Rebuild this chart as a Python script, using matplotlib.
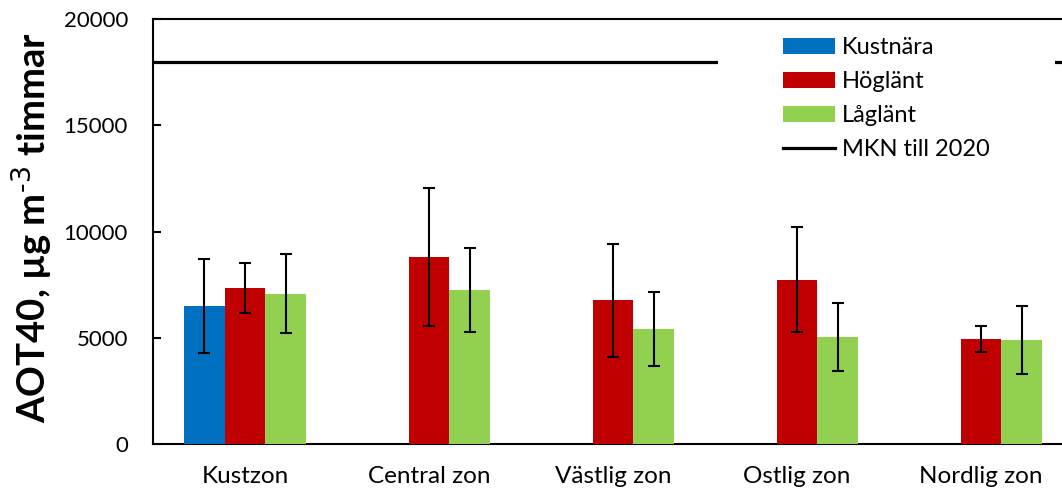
import matplotlib
matplotlib.use("Agg")
import matplotlib.pyplot as plt
import numpy as np

categories = ["Kustzon", "Central zon", "Västlig zon", "Ostlig zon", "Nordlig zon"]
series_names = ["Kustnära", "Höglänt", "Låglänt"]
kustnara = [6500, 0, 0, 0, 0]
kustnara_err = [2200, 0, 0, 0, 0]
hoglant = [7340, 8790, 6760, 7720, 4950]
hoglant_err = [1170, 3240, 2660, 2470, 600]
laglant = [7070, 7230, 5420, 5050, 4890]
laglant_err = [1850, 1975, 1750, 1600, 1590]
mkn_value = 18000
mkn_label = "MKN till 2020"
yticks = [0, 5000, 10000, 15000, 20000]

colors = ["#0070C0", "#C00000", "#92D050"]

plt.rcParams['font.family'] = ['Lato', 'DejaVu Sans']
plt.rcParams['mathtext.default'] = 'regular'

fig = plt.figure(figsize=(10.62, 4.92), dpi=100)
ax = fig.add_axes([153/1062, 48/492, 920/1062, 425/492])

x = np.arange(len(categories))
w = 1/4.5
vals = [kustnara, hoglant, laglant]
errs = [kustnara_err, hoglant_err, laglant_err]
for i, (v, e) in enumerate(zip(vals, errs)):
    pos = x + (i - 1) * w
    v = np.array(v, dtype=float)
    e = np.array(e, dtype=float)
    mask = v > 0
    ax.bar(pos, v, width=w, color=colors[i], label=series_names[i], zorder=3)
    ax.errorbar(pos[mask], v[mask], yerr=e[mask], fmt='none', ecolor='black',
                elinewidth=1.5, capsize=4, capthick=1.5, zorder=4)

ax.axhline(mkn_value, color='black', lw=2.3, label=mkn_label, zorder=2)

ax.set_xlim(-0.5, len(categories) - 0.5)
ax.set_ylim(0, 20000)
ax.set_yticks(yticks)
ax.set_xticks(x)
ax.set_xticklabels(categories, fontsize=17.5)
ax.tick_params(axis='y', direction='in', length=6, width=1.5, labelsize=16, pad=18)
ax.tick_params(axis='x', length=0, pad=16)
for s in ['left', 'bottom', 'top']:
    ax.spines[s].set_linewidth(1.5)
ax.spines['right'].set_visible(False)

ax.set_ylabel(r"AOT40, µg m$^{\text{-3}}$ timmar", fontsize=27.5, fontweight='bold')
ax.yaxis.set_label_coords(-0.108, 0.51)

handles, labels = ax.get_legend_handles_labels()
order = [1, 2, 3, 0]
leg = ax.legend([handles[i] for i in order], [labels[i] for i in order],
                loc='upper left', bbox_to_anchor=(0.614, 1.11), fontsize=17,
                frameon=True, facecolor='white', edgecolor='none', framealpha=1,
                borderpad=2.75, handlelength=2.2, handleheight=0.7,
                handletextpad=0.3, labelspacing=0.55, borderaxespad=0)
leg.set_zorder(2.2)
leg.get_frame().set_linewidth(0)

fig.savefig("out.png", dpi=100)
